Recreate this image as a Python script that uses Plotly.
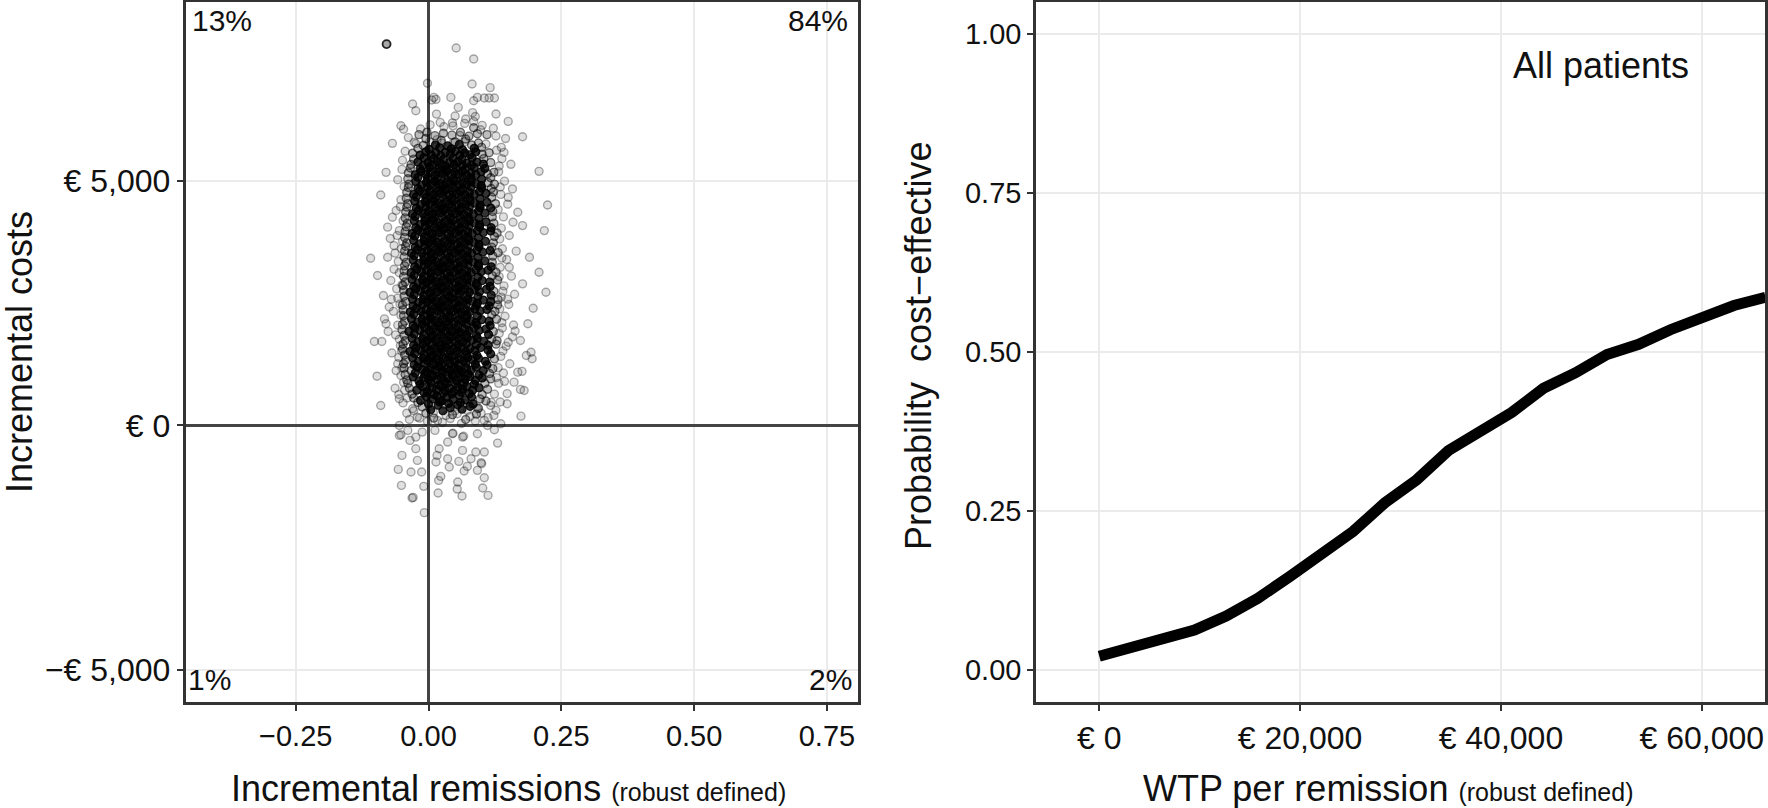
import plotly.graph_objects as go

# ---------------- data ----------------
# Left panel: incremental remissions (x) vs incremental costs (y), PSA cloud
# dense (black) centre of the cloud
core_pts = [
    (0.004,320),(0.018,410),(0.027,300),(0.041,360),(0.055,420),(0.063,330),(0.078,390),
    (0.000,440),(0.021,480),(0.038,450),(0.060,470),(0.084,440),
    (-0.015,510),(-0.004,590),(0.008,540),(0.016,600),(0.025,500),(0.034,570),(0.046,530),(0.058,610),(0.069,520),(0.081,580),
    (-0.008,670),(0.011,630),(0.028,660),(0.044,640),(0.062,680),(0.077,650),
    (-0.022,720),(-0.011,790),(-0.002,700),(0.007,770),(0.015,730),(0.023,800),(0.031,710),(0.039,760),(0.047,690),(0.055,780),(0.064,740),(0.072,800),(0.083,720),(0.095,770),
    (-0.016,840),(0.004,870),(0.020,830),(0.035,860),(0.051,850),(0.067,870),(0.086,840),
    (-0.029,990),(-0.018,910),(-0.009,970),(0.000,930),(0.008,1000),(0.016,940),(0.024,980),(0.031,900),(0.038,960),(0.046,1010),(0.053,920),(0.061,980),(0.069,940),(0.078,1000),(0.088,920),(0.101,970),
    (-0.025,1070),(-0.007,1050),(0.010,1030),(0.026,1060),(0.044,1040),(0.059,1070),(0.075,1050),(0.095,1030),
    (-0.021,1190),(-0.012,1140),(-0.004,1100),(0.004,1180),(0.012,1130),(0.019,1200),(0.027,1110),(0.034,1160),(0.041,1120),(0.048,1190),(0.056,1140),(0.063,1100),(0.071,1170),(0.080,1130),(0.090,1190),(0.103,1120),
    (-0.027,1240),(-0.008,1270),(0.009,1250),(0.024,1230),(0.040,1260),(0.055,1240),(0.070,1270),(0.088,1250),(0.110,1240),
    (-0.030,1380),(-0.019,1310),(-0.010,1370),(-0.002,1320),(0.006,1390),(0.013,1340),(0.021,1300),(0.028,1380),(0.036,1330),(0.043,1400),(0.050,1310),(0.058,1360),(0.066,1320),(0.074,1390),(0.083,1340),(0.094,1370),(0.107,1310),
    (-0.026,1470),(-0.009,1450),(0.008,1430),(0.023,1460),(0.039,1440),(0.056,1470),(0.072,1450),(0.091,1430),(0.117,1460),
    (-0.035,1510),(-0.024,1580),(-0.014,1530),(-0.006,1590),(0.002,1520),(0.010,1570),(0.017,1500),(0.025,1560),(0.032,1600),(0.040,1520),(0.047,1570),(0.054,1530),(0.062,1590),(0.070,1510),(0.078,1570),(0.087,1530),(0.098,1590),(0.112,1540),
    (-0.028,1640),(-0.010,1670),(0.007,1650),(0.023,1630),(0.039,1660),(0.055,1640),(0.071,1670),(0.090,1650),(0.112,1640),
    (-0.031,1780),(-0.020,1710),(-0.011,1770),(-0.003,1720),(0.005,1790),(0.013,1740),(0.020,1700),(0.028,1780),(0.035,1730),(0.043,1800),(0.050,1720),(0.057,1770),(0.065,1710),(0.073,1790),(0.082,1740),(0.092,1780),(0.104,1720),
    (-0.027,1870),(-0.009,1850),(0.008,1830),(0.024,1860),(0.040,1840),(0.056,1870),(0.072,1850),(0.090,1830),(0.113,1860),
    (-0.037,1920),(-0.026,1990),(-0.016,1940),(-0.007,2000),(0.001,1930),(0.009,1970),(0.016,1910),(0.024,1980),(0.031,1930),(0.038,1990),(0.045,1920),(0.053,1960),(0.060,1900),(0.068,1970),(0.076,1930),(0.085,1990),(0.095,1940),(0.108,1970),
    (-0.029,2040),(-0.011,2070),(0.006,2050),(0.022,2030),(0.038,2060),(0.055,2040),(0.071,2070),(0.091,2050),(0.116,2040),
    (-0.032,2180),(-0.021,2110),(-0.012,2170),(-0.004,2120),(0.004,2190),(0.011,2140),(0.019,2100),(0.026,2170),(0.034,2130),(0.041,2190),(0.048,2110),(0.056,2160),(0.063,2120),(0.071,2180),(0.079,2140),(0.089,2100),(0.100,2160),(0.114,2130),
    (-0.028,2270),(-0.010,2250),(0.007,2230),(0.023,2260),(0.039,2240),(0.056,2270),(0.072,2250),(0.092,2230),
    (-0.034,2320),(-0.023,2390),(-0.014,2330),(-0.005,2370),(0.003,2310),(0.010,2380),(0.018,2340),(0.025,2400),(0.033,2320),(0.040,2370),(0.047,2330),(0.054,2390),(0.062,2310),(0.070,2360),(0.078,2320),(0.087,2380),(0.097,2340),(0.110,2370),
    (-0.029,2440),(-0.011,2470),(0.006,2450),(0.022,2430),(0.038,2460),(0.055,2440),(0.071,2470),(0.090,2450),(0.114,2440),
    (-0.030,2580),(-0.019,2510),(-0.010,2570),(-0.002,2520),(0.006,2590),(0.013,2540),(0.021,2500),(0.028,2570),(0.036,2530),(0.043,2590),(0.051,2510),(0.058,2560),(0.066,2520),(0.074,2580),(0.082,2540),(0.092,2500),(0.103,2560),(0.117,2530),
    (-0.027,2670),(-0.009,2650),(0.008,2630),(0.024,2660),(0.040,2640),(0.057,2670),(0.073,2650),(0.093,2630),(0.118,2660),
    (-0.035,2720),(-0.024,2790),(-0.015,2740),(-0.006,2780),(0.002,2710),(0.010,2770),(0.017,2730),(0.025,2800),(0.032,2720),(0.039,2760),(0.047,2700),(0.054,2780),(0.061,2740),(0.069,2790),(0.077,2720),(0.086,2770),(0.096,2730),(0.109,2780),
    (-0.028,2840),(-0.010,2870),(0.007,2850),(0.023,2830),(0.039,2860),(0.056,2840),(0.072,2870),(0.092,2850),(0.116,2840),
    (-0.031,2980),(-0.020,2910),(-0.011,2970),(-0.003,2920),(0.005,2990),(0.012,2940),(0.020,2900),(0.027,2970),(0.035,2930),(0.042,2990),(0.050,2910),(0.057,2960),(0.065,2920),(0.073,2980),(0.081,2940),(0.090,2900),(0.101,2960),(0.115,2930),
    (-0.027,3070),(-0.009,3050),(0.008,3030),(0.024,3060),(0.040,3040),(0.057,3070),(0.073,3050),(0.093,3030),
    (-0.033,3120),(-0.022,3190),(-0.013,3130),(-0.004,3170),(0.004,3110),(0.011,3180),(0.019,3140),(0.026,3200),(0.034,3120),(0.041,3170),(0.049,3130),(0.056,3190),(0.064,3110),(0.072,3160),(0.080,3120),(0.089,3180),(0.099,3140),(0.112,3170),
    (-0.026,3240),(-0.008,3270),(0.009,3250),(0.025,3230),(0.041,3260),(0.058,3240),(0.074,3270),(0.094,3250),(0.118,3240),
    (-0.029,3380),(-0.018,3310),(-0.009,3370),(-0.001,3320),(0.007,3390),(0.014,3340),(0.022,3300),(0.029,3370),(0.037,3330),(0.044,3390),(0.052,3310),(0.059,3360),(0.067,3320),(0.075,3380),(0.084,3340),(0.094,3300),(0.106,3360),
    (-0.027,3470),(-0.009,3450),(0.008,3430),(0.024,3460),(0.040,3440),(0.057,3470),(0.073,3450),(0.093,3430),
    (-0.032,3520),(-0.021,3590),(-0.012,3530),(-0.003,3570),(0.005,3510),(0.012,3580),(0.020,3540),(0.027,3600),(0.035,3520),(0.042,3570),(0.050,3530),(0.057,3590),(0.065,3510),(0.073,3560),(0.081,3520),(0.091,3580),(0.102,3540),(0.116,3570),
    (-0.025,3640),(-0.007,3670),(0.010,3650),(0.026,3630),(0.042,3660),(0.059,3640),(0.075,3670),(0.095,3650),
    (-0.028,3780),(-0.017,3710),(-0.008,3770),(0.000,3720),(0.008,3790),(0.015,3740),(0.023,3700),(0.030,3770),(0.038,3730),(0.045,3790),(0.053,3710),(0.060,3760),(0.068,3720),(0.076,3780),(0.085,3740),(0.095,3700),(0.107,3760),
    (-0.026,3870),(-0.008,3850),(0.009,3830),(0.025,3860),(0.041,3840),(0.058,3870),(0.074,3850),(0.094,3830),
    (-0.031,3920),(-0.020,3990),(-0.011,3930),(-0.002,3970),(0.006,3910),(0.013,3980),(0.021,3940),(0.028,4000),(0.036,3920),(0.043,3970),(0.051,3930),(0.058,3990),(0.066,3910),(0.074,3960),(0.082,3920),(0.092,3980),(0.103,3940),(0.117,3970),
    (-0.024,4040),(-0.006,4070),(0.011,4050),(0.027,4030),(0.043,4060),(0.060,4040),(0.076,4070),(0.096,4050),(0.118,4040),
    (-0.027,4180),(-0.016,4110),(-0.007,4170),(0.001,4120),(0.009,4190),(0.016,4140),(0.024,4100),(0.031,4170),(0.039,4130),(0.046,4190),(0.054,4110),(0.061,4160),(0.069,4120),(0.077,4180),(0.086,4140),(0.096,4100),(0.108,4160),
    (-0.025,4270),(-0.007,4250),(0.010,4230),(0.026,4260),(0.042,4240),(0.059,4270),(0.075,4250),(0.095,4230),
    (-0.030,4320),(-0.019,4390),(-0.010,4330),(-0.001,4370),(0.007,4310),(0.014,4380),(0.022,4340),(0.029,4400),(0.037,4320),(0.044,4370),(0.052,4330),(0.059,4390),(0.067,4310),(0.075,4360),(0.084,4320),(0.094,4380),(0.106,4340),
    (-0.023,4440),(-0.005,4470),(0.012,4450),(0.028,4430),(0.044,4460),(0.061,4440),(0.077,4470),(0.097,4450),(0.117,4440),
    (-0.026,4580),(-0.015,4510),(-0.006,4570),(0.002,4520),(0.010,4590),(0.017,4540),(0.025,4500),(0.032,4570),(0.040,4530),(0.047,4590),(0.055,4510),(0.062,4560),(0.070,4520),(0.078,4580),(0.087,4540),(0.097,4500),(0.110,4560),
    (-0.023,4670),(-0.005,4650),(0.012,4630),(0.028,4660),(0.044,4640),(0.061,4670),(0.077,4650),(0.097,4630),
    (-0.028,4720),(-0.017,4790),(-0.008,4730),(0.001,4770),(0.009,4710),(0.016,4780),(0.024,4740),(0.031,4800),(0.039,4720),(0.046,4770),(0.054,4730),(0.061,4790),(0.069,4710),(0.077,4760),(0.086,4720),(0.096,4780),(0.108,4740),
    (-0.020,4840),(-0.002,4870),(0.015,4850),(0.031,4830),(0.047,4860),(0.064,4840),(0.080,4870),(0.100,4850),
    (-0.024,4980),(-0.013,4910),(-0.004,4970),(0.004,4920),(0.012,4990),(0.019,4940),(0.027,4900),(0.034,4970),(0.042,4930),(0.049,4990),(0.057,4910),(0.064,4960),(0.072,4920),(0.080,4980),(0.089,4940),(0.099,4900),
    (-0.020,5070),(-0.002,5050),(0.015,5030),(0.031,5060),(0.047,5040),(0.064,5070),(0.080,5050),(0.100,5030),
    (-0.025,5120),(-0.014,5190),(-0.005,5130),(0.004,5170),(0.012,5110),(0.019,5180),(0.027,5140),(0.034,5200),(0.042,5120),(0.049,5170),(0.057,5130),(0.064,5190),(0.072,5110),(0.080,5160),(0.089,5120),(0.099,5180),
    (-0.016,5240),(0.002,5270),(0.019,5250),(0.035,5230),(0.052,5260),(0.069,5240),(0.086,5270),(0.106,5250),
    (-0.020,5380),(-0.010,5310),(-0.001,5370),(0.008,5320),(0.016,5390),(0.024,5340),(0.032,5300),(0.040,5370),(0.048,5330),(0.056,5390),(0.064,5310),(0.072,5360),(0.081,5320),(0.091,5380),(0.103,5340),
    (-0.009,5470),(0.010,5450),(0.028,5430),(0.046,5460),(0.063,5440),(0.082,5470),
    (-0.016,5520),(-0.005,5590),(0.005,5530),(0.014,5570),(0.023,5510),(0.032,5580),(0.041,5540),(0.050,5600),(0.059,5520),(0.068,5570),(0.078,5530),(0.089,5590),
    (0.001,5640),(0.021,5670),(0.043,5650),(0.064,5630),(0.086,5660),
    (0.013,5730),(0.036,5710),(0.058,5740),
]

# mottled (dark grey) fringe of the cloud
mid_pts = [
    (-0.012,380),(0.094,350),(-0.020,470),(-0.028,560),(0.097,540),(0.108,500),(-0.031,640),(0.101,630),
    (-0.036,760),(0.111,740),(-0.039,860),(0.106,860),(-0.041,930),(0.117,950),(-0.044,1040),(0.115,1060),
    (-0.046,1170),(-0.033,1120),(0.121,1160),(-0.047,1260),(-0.043,1330),(0.124,1360),(-0.045,1440),(-0.049,1560),
    (-0.048,1660),(0.127,1660),(-0.044,1730),(0.119,1760),(0.129,1730),(-0.046,1840),(-0.050,1960),(0.122,1920),
    (-0.049,2060),(-0.045,2130),(0.128,2170),(-0.047,2240),(0.119,2260),(-0.048,2360),(0.125,2330),(-0.049,2460),
    (0.130,2460),(-0.043,2530),(0.131,2570),(-0.046,2640),(-0.047,2760),(0.123,2740),(-0.048,2860),(-0.044,2930),
    (0.130,2970),(-0.047,3040),(0.120,3060),(-0.046,3160),(0.127,3130),(-0.045,3260),(-0.042,3330),(0.120,3330),
    (-0.046,3440),(0.121,3460),(-0.045,3560),(0.131,3530),(-0.043,3660),(0.119,3640),(-0.041,3730),(0.122,3730),
    (-0.045,3840),(0.124,3860),(-0.044,3960),(0.129,3930),(-0.042,4060),(-0.040,4130),(0.123,4130),(-0.044,4240),
    (0.120,4260),(-0.043,4360),(0.121,4370),(-0.041,4460),(-0.039,4530),(0.126,4530),(-0.042,4640),(0.119,4660),
    (-0.041,4760),(0.122,4770),(-0.038,4860),(0.118,4840),(-0.037,4930),(0.112,4960),(0.124,4930),(-0.039,5040),
    (0.117,5060),(-0.038,5160),(0.111,5140),(0.123,5170),(-0.034,5260),(-0.033,5330),(0.117,5370),(-0.028,5440),
    (0.104,5450),(-0.030,5560),(0.101,5540),(0.114,5570),(-0.020,5660),(-0.010,5720),(0.081,5730),(0.094,5770),
    (-0.018,5940),(-0.003,5990),(0.012,5920),(0.028,5970),(0.044,5930),(0.060,5990),(0.076,5910),(0.092,5960),
    (0.110,5940),(0.024,5820),(0.070,5850),(-0.005,5860),(0.100,5680),(0.050,5790),(0.085,6080),
    (0.010,150),(0.045,220),(0.070,120),(-0.005,250),(0.090,230),
]

# scattered (light grey) outer part of the cloud
light_pts = [
    # top of the cloud
    (0.052,7711),(0.085,7487),(-0.002,6990),(0.082,6974),(0.116,6900),(0.042,6701),(0.010,6701),(0.085,6633),
    (0.105,6688),(0.114,6690),(0.124,6688),(0.092,6701),(-0.030,6566),(-0.024,6429),(0.006,6647),(0.014,6660),
    (0.056,6497),(0.150,6211),(0.177,5898),(0.127,6361),(0.070,6259),(0.029,6102),(-0.015,6055),(-0.052,6123),
    (-0.068,5762),(0.098,6040),(0.122,6070),(0.127,5912),(-0.027,5786),(0.137,5681),(0.016,5839),(0.059,5923),
    (0.142,5578),(0.088,6312),(0.045,6180),
    (-0.024,5760),(0.002,5790),(0.025,5770),(0.047,5780),(0.069,5800),(0.108,5750),
    (0.003,6140),(0.022,6190),(0.046,6120),(0.068,6170),(0.085,6210),(0.101,6130),
    (0.015,6360),(0.050,6320),(0.083,6390),
    # sides of the cloud
    (-0.080,5170),(-0.090,4708),(0.208,5190),(0.224,4504),(0.218,3980),(0.221,2721),(0.208,3129),(0.197,2394),
    (-0.109,3415),(-0.096,3062),(-0.085,2653),(-0.080,2076),(-0.102,1714),(-0.088,1714),(-0.097,1006),(-0.090,408),
    (0.177,2892),(0.190,3435),(0.187,2076),(0.193,1496),(0.195,1361),(0.180,714),(0.174,190),(0.161,884),
    (0.184,1428),(0.168,1088),(0.177,4082),(0.168,4354),(0.158,4831),(-0.068,4252),(-0.065,3674),(-0.065,3190),
    (-0.083,2176),(-0.058,1259),(-0.055,545),(-0.052,1020),(-0.049,5418),(0.155,5334),(-0.077,3435),(-0.070,2577),
    (0.160,2051),(0.173,1736),(0.176,1105),(0.173,736),(-0.056,631),
    (-0.058,5020),(-0.052,4610),(-0.061,4390),(-0.055,3980),(-0.049,3760),(-0.063,3520),(-0.057,3350),(-0.071,2960),
    (-0.060,2790),(-0.054,2480),(-0.066,2330),(-0.058,2050),(-0.062,1850),(-0.053,1630),(-0.069,1480),(-0.056,1390),
    (-0.061,1120),(-0.047,880),(-0.063,760),(-0.048,460),(-0.041,250),(-0.036,120),(-0.072,3820),(-0.077,4050),
    (-0.074,2420),(-0.076,1920),
    (-0.050,5230),(-0.046,4880),(-0.053,4470),(-0.048,4180),(-0.059,3880),(-0.051,3610),(-0.055,3120),(-0.050,2870),
    (-0.058,2600),(-0.052,2250),(-0.055,1760),(-0.051,1520),(-0.050,1180),(-0.045,720),(-0.040,560),(-0.044,5600),
    (-0.038,5880),(-0.047,6050),
    (0.138,5450),(0.132,5180),(0.143,4990),(0.136,4720),(0.149,4520),(0.141,4260),(0.137,4030),(0.152,3880),
    (0.139,3610),(0.147,3390),(0.135,3230),(0.156,3050),(0.142,2850),(0.137,2620),(0.151,2470),(0.144,2230),
    (0.139,1990),(0.158,1810),(0.146,1620),(0.136,1410),(0.153,1260),(0.141,1070),(0.132,860),(0.148,650),
    (0.135,480),(0.127,310),(0.162,2680),(0.165,3560),(0.159,4150),(0.163,1930),
    (0.128,5620),(0.133,5300),(0.135,4870),(0.131,4410),(0.134,3810),(0.138,3420),(0.133,3040),(0.140,2740),
    (0.134,2380),(0.138,2100),(0.133,1880),(0.140,1520),(0.131,1180),(0.128,980),(0.124,640),(0.118,470),
    (0.145,5860),(0.150,4660),(0.152,3230),(0.149,2580),(0.150,1700),(0.143,900),
    # around zero cost
    (-0.028,300),(-0.017,150),(-0.002,80),(0.009,260),(0.026,60),(0.041,140),(0.050,300),(0.062,40),
    (0.078,180),(0.088,90),(0.099,250),(0.112,160),(0.030,420),(0.068,450),
    (0.017,102),(0.033,204),(0.054,238),(0.073,306),(0.092,340),(0.117,408),(0.148,442),(0.123,204),
    (0.105,102),(0.111,0),(-0.030,340),(-0.021,170),(0.136,34),(0.124,-88),
    # below zero cost
    (-0.055,0),(-0.055,-204),(-0.052,-190),(-0.035,-306),(-0.024,-476),(-0.050,-612),(-0.057,-898),(-0.033,-952),
    (-0.051,-1225),(-0.031,-1483),(-0.029,-1470),(-0.009,-1245),(-0.008,-1782),(0.018,-1381),(0.023,-1041),
    (0.019,-1123),(0.055,-1157),(0.063,-1442),(0.054,-1300),(0.067,-932),(0.073,-837),(0.100,-782),(0.105,-1068),
    (0.102,-1279),(0.112,-1429),(0.130,-361),(0.089,-544),(0.105,-544),(0.092,-170),(0.036,-340),(0.045,-170),
    (0.064,-238),(0.064,-510),(0.020,-476),(0.016,-612),(0.036,-680),(0.057,-735),(0.039,-850),(-0.021,-714),
    (-0.013,-952),(0.014,-748),(0.080,-680),(0.092,-918),(-0.024,-238),(-0.012,-136),(0.012,-102),(-0.039,-102),
    (0.046,-160),(0.066,-220),(0.099,-760),
]

mean_point = (-0.079, 7790)

x_ticks_left = [-0.25, 0.0, 0.25, 0.5, 0.75]
x_labels_left = ["\u22120.25", "0.00", "0.25", "0.50", "0.75"]
y_ticks_left = [-5000, 0, 5000]
y_labels_left = ["\u2212\u20ac 5,000", "\u20ac 0", "\u20ac 5,000"]

quadrant_labels = {"NW": "13%", "NE": "84%", "SW": "1%", "SE": "2%"}

# Right panel: acceptability curve
wtp = [0, 3160, 6320, 9480, 12640, 15800, 18960, 22120, 25280, 28440, 31600, 34760,
       37920, 41080, 44240, 47400, 50560, 53720, 56880, 60040, 63200, 66360]
prob_ce = [0.022, 0.035, 0.048, 0.063, 0.085, 0.113, 0.147, 0.183, 0.218, 0.263, 0.299, 0.345,
           0.375, 0.405, 0.443, 0.467, 0.496, 0.512, 0.535, 0.555, 0.573, 0.586]

x_ticks_right = [0, 20000, 40000, 60000]
x_labels_right = ["\u20ac 0", "\u20ac 20,000", "\u20ac 40,000", "\u20ac 60,000"]
y_ticks_right = [0, 0.25, 0.5, 0.75, 1.0]
y_labels_right = ["0.00", "0.25", "0.50", "0.75", "1.00"]

# ---------------- figure ----------------
FONT = "Liberation Sans, Arial, Helvetica, sans-serif"
W, H = 1768, 808

fig = go.Figure()

def cloud_trace(pts, fill, ring, lw):
    return go.Scatter(
        x=[p[0] for p in pts], y=[p[1] for p in pts], mode="markers",
        marker=dict(size=8, color=fill, line=dict(color=ring, width=lw)),
        xaxis="x", yaxis="y", showlegend=False, hoverinfo="skip")

fig.add_trace(cloud_trace(light_pts, "rgba(0,0,0,0.12)", "rgba(0,0,0,0.32)", 1.4))
fig.add_trace(cloud_trace(mid_pts, "rgba(0,0,0,0.26)", "rgba(0,0,0,0.55)", 1.4))
fig.add_trace(cloud_trace(core_pts, "rgba(0,0,0,0.80)", "rgba(0,0,0,0.86)", 1.2))
fig.add_trace(go.Scatter(
    x=[mean_point[0]], y=[mean_point[1]], mode="markers",
    marker=dict(size=8, color="#a8a8a8", line=dict(color="#222222", width=1.8)),
    xaxis="x", yaxis="y", showlegend=False, hoverinfo="skip"))

fig.add_trace(go.Scatter(
    x=wtp, y=prob_ce, mode="lines", line=dict(color="black", width=11),
    xaxis="x2", yaxis="y2", showlegend=False, hoverinfo="skip"))

axis_common = dict(
    showline=True, mirror=True, linecolor="#333333", linewidth=2.5,
    ticks="outside", ticklen=6, tickwidth=2, tickcolor="#333333",
    showgrid=True, gridcolor="#ebebeb", gridwidth=2,
)
num_font = dict(family=FONT, size=29, color="#111111")
eur_font = dict(family=FONT, size=32, color="#111111")

ydom = [106 / H, 806 / H]
fig.update_layout(
    width=W, height=H, margin=dict(l=0, r=0, t=0, b=0),
    paper_bgcolor="white", plot_bgcolor="white",
    font=dict(family=FONT, color="#111111"),
    xaxis=dict(domain=[185.5 / W, 857.5 / W], range=[-0.4575, 0.8075],
               tickvals=x_ticks_left, ticktext=x_labels_left, tickfont=num_font,
               zeroline=True, zerolinecolor="#444444", zerolinewidth=2.5, **axis_common),
    yaxis=dict(domain=ydom, range=[-5650, 8650],
               tickvals=y_ticks_left, ticktext=y_labels_left, tickfont=eur_font,
               zeroline=True, zerolinecolor="#444444", zerolinewidth=2.5, **axis_common),
    xaxis2=dict(domain=[1036 / W, 1765 / W], range=[-6300, 66300], anchor="y2",
                tickvals=x_ticks_right, ticktext=x_labels_right, tickfont=eur_font,
                zeroline=False, **axis_common),
    yaxis2=dict(domain=ydom, range=[-0.05, 1.05], anchor="x2",
                tickvals=y_ticks_right, ticktext=y_labels_right, tickfont=num_font,
                zeroline=False, **axis_common),
)

ann = []
qfont = dict(family=FONT, size=30, color="#111111")
ann.append(dict(text=quadrant_labels["NW"], xref="x domain", yref="y domain", x=0, y=1,
                xanchor="left", yanchor="top", xshift=4, yshift=0, showarrow=False, font=qfont))
ann.append(dict(text=quadrant_labels["NE"], xref="x domain", yref="y domain", x=1, y=1,
                xanchor="right", yanchor="top", xshift=-8, yshift=0, showarrow=False, font=qfont))
ann.append(dict(text=quadrant_labels["SW"], xref="x domain", yref="y domain", x=0, y=0,
                xanchor="left", yanchor="bottom", xshift=0, yshift=4, showarrow=False, font=qfont))
ann.append(dict(text=quadrant_labels["SE"], xref="x domain", yref="y domain", x=1, y=0,
                xanchor="right", yanchor="bottom", xshift=-4, yshift=4, showarrow=False, font=qfont))
ann.append(dict(text="All patients", xref="x2", yref="y2", x=50000, y=0.951,
                xanchor="center", yanchor="middle", showarrow=False,
                font=dict(family=FONT, size=36, color="#111111")))
tfont = dict(family=FONT, size=36, color="#111111")
ann.append(dict(text="Incremental costs", xref="paper", yref="paper", x=19 / W, y=(808 - 352) / H,
                textangle=-90, xanchor="center", yanchor="middle", showarrow=False, font=tfont))
ann.append(dict(text="Probability  cost\u2212effective", xref="paper", yref="paper", x=918 / W, y=(808 - 346) / H,
                textangle=-90, xanchor="center", yanchor="middle", showarrow=False, font=tfont))
ann.append(dict(text="Incremental remissions <span style='font-size:25px'>(robust defined)</span>",
                xref="paper", yref="paper", x=509 / W, y=(808 - 788) / H,
                xanchor="center", yanchor="middle", showarrow=False, font=tfont))
ann.append(dict(text="WTP per remission <span style='font-size:25px'>(robust defined)</span>",
                xref="paper", yref="paper", x=1388 / W, y=(808 - 788) / H,
                xanchor="center", yanchor="middle", showarrow=False, font=tfont))
fig.update_layout(annotations=ann)

fig.write_html("out.html", config={"displayModeBar": False},
               post_script="document.body.style.margin='0px';document.body.style.padding='0px';")
